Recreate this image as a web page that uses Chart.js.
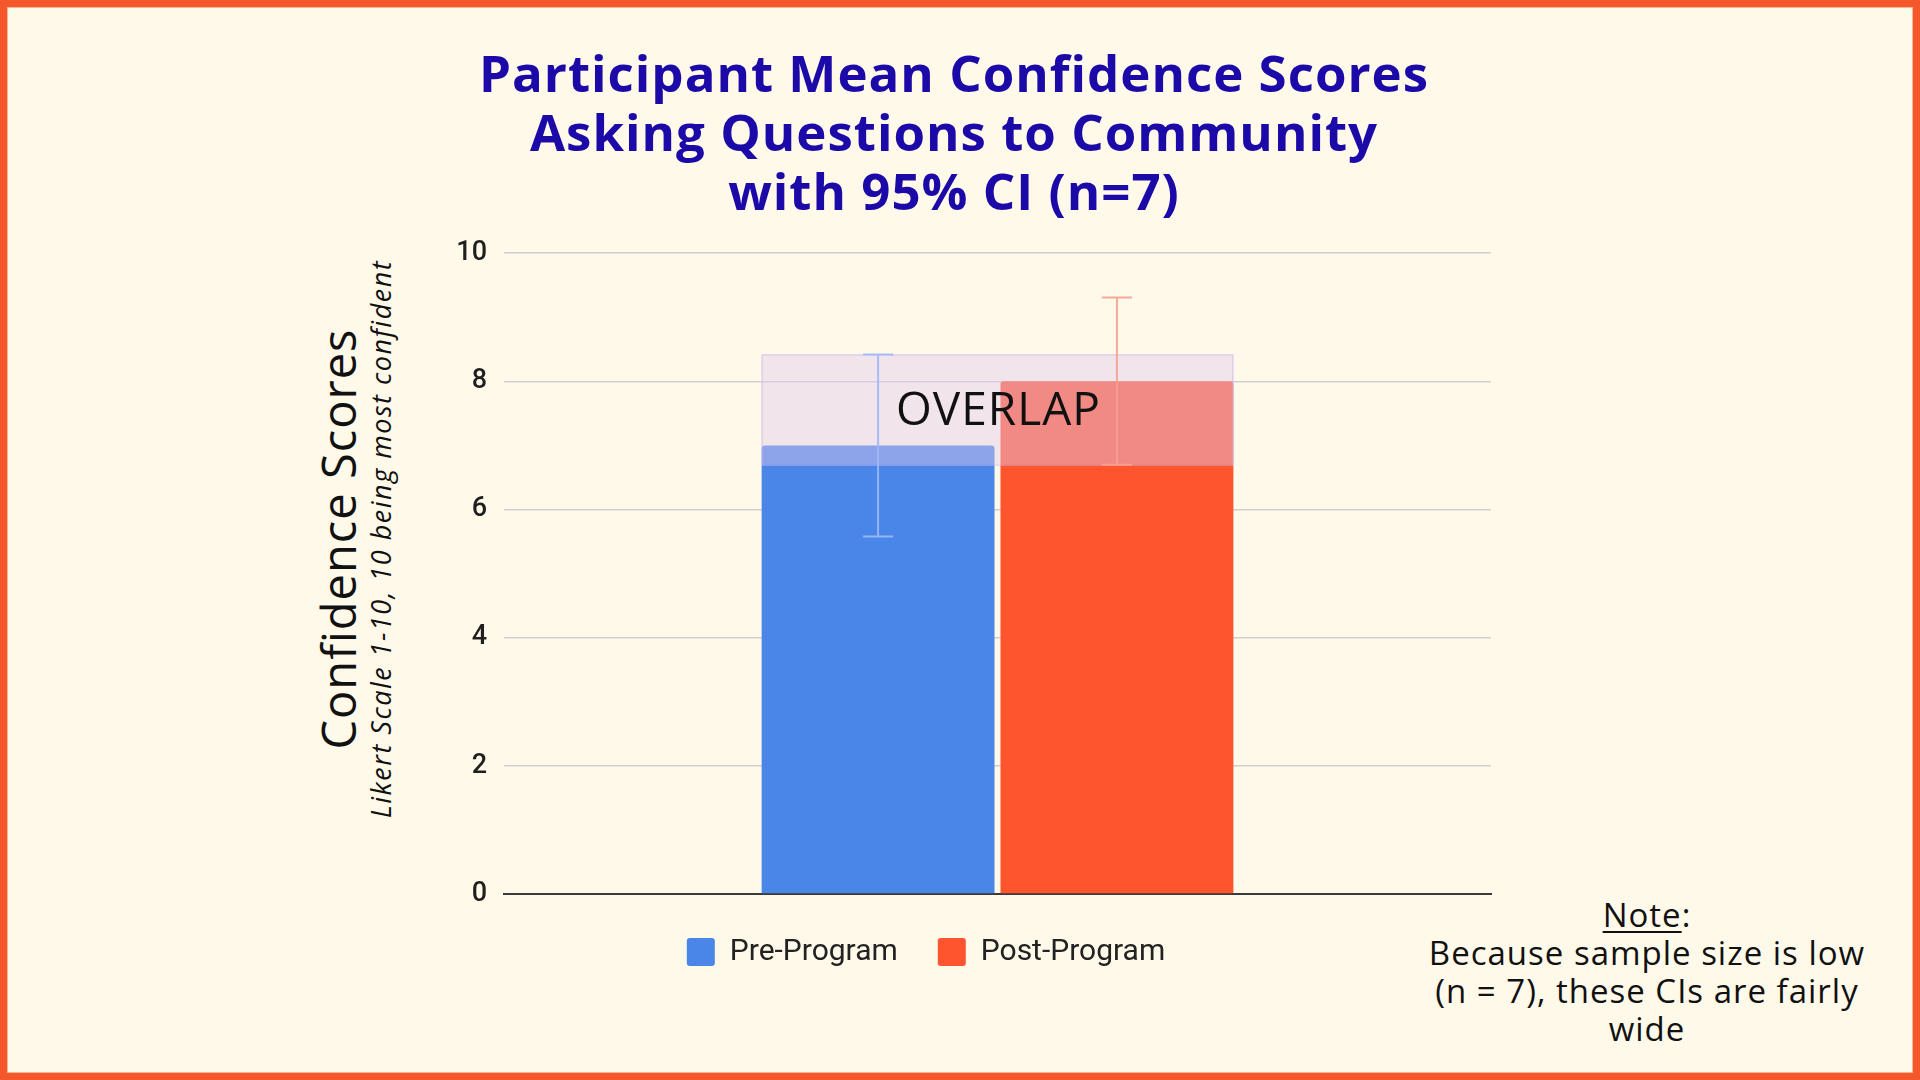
<!DOCTYPE html>
<html>
<head>
<meta charset="utf-8">
<script src="https://cdn.jsdelivr.net/npm/chart.js@4.4.1/dist/chart.umd.min.js"></script>
<style>
  html, body { margin: 0; padding: 0; }
  body {
    width: 1920px; height: 1080px; position: relative; overflow: hidden;
    background: #FFF9EA;
  }
  #frame {
    position: absolute; left: 0; top: 0; width: 1920px; height: 1080px;
    box-sizing: border-box; border: 7px solid #F4572A;
    box-shadow: inset 0 0 0 1px #F9B496;
  }
  #title {
    position: absolute; left: 304px; top: 43px; width: 1300px;
    text-align: center; font-family: "Open Sans", sans-serif; font-weight: 700;
    font-size: 51px; line-height: 59px; letter-spacing: 1px; color: #1C0AA8;
  }
  .ytitle {
    position: absolute; white-space: nowrap; transform: translate(-50%, -50%) rotate(-90deg);
    color: #111;
  }
  #ymain { left: 338px; top: 539px; font-family: "Open Sans", sans-serif; font-size: 47px; letter-spacing: 1px; }
  #ysub { left: 380px; top: 539px; font-family: "Open Sans", sans-serif; font-style: italic; font-size: 27px; letter-spacing: 1.5px; }
  #note {
    position: absolute; left: 1372px; top: 896px; width: 550px; text-align: center;
    font-family: "Open Sans", sans-serif; font-size: 33px; line-height: 38px; letter-spacing: 1px; color: #111;
  }
  #note u { text-decoration-thickness: 2px; text-underline-offset: 4px; }
  #wrap { position: absolute; left: 332px; top: 220px; width: 1188px; height: 800px; }
</style>
</head>
<body>
<div id="frame"></div>
<div id="title">Participant Mean Confidence Scores<br>Asking Questions to Community<br>with 95% CI (n=7)</div>
<div id="ymain" class="ytitle">Confidence Scores</div>
<div id="ysub" class="ytitle">Likert Scale 1-10, 10 being most confident</div>
<div id="note"><u>Note</u>:<br>Because sample size is low<br>(n = 7), these CIs are fairly<br>wide</div>
<div id="wrap"><canvas id="chart"></canvas></div>
<script>
// chart data
const categories = ['Asking Questions to Community'];
const seriesNames = ['Pre-Program', 'Post-Program'];
const preMean = [7.0];
const postMean = [8.0];
const preLow = [5.58];
const preHigh = [8.42];
const postLow = [6.70];
const postHigh = [9.31];
const yTicks = [0, 2, 4, 6, 8, 10];

const barColors = ['#4A86E8', '#FF552E'];
const errColors = ['rgba(160,184,246,0.9)', 'rgba(246,160,144,0.9)'];

// overlap box + error bars, drawn on top of the bars
const ciPlugin = {
  id: 'ciPlugin',
  afterDatasetsDraw(chart) {
    const ctx = chart.ctx;
    const y = chart.scales.y;
    const lows = [preLow, postLow];
    const highs = [preHigh, postHigh];
    const bars = [chart.getDatasetMeta(0).data[0], chart.getDatasetMeta(1).data[0]];

    const left = Math.min(...bars.map(b => b.x - b.width / 2));
    const right = Math.max(...bars.map(b => b.x + b.width / 2));
    const ovLow = Math.max(preLow[0], postLow[0]);
    const ovHigh = Math.min(preHigh[0], postHigh[0]);
    const top = y.getPixelForValue(ovHigh);
    const bottom = y.getPixelForValue(ovLow);

    ctx.save();
    ctx.fillStyle = 'rgba(225,202,238,0.45)';
    ctx.fillRect(left, top, right - left, bottom - top);
    ctx.strokeStyle = 'rgba(200,180,235,0.7)';
    ctx.lineWidth = 1;
    ctx.strokeRect(left + 0.5, top + 0.5, right - left - 1, bottom - top);

    bars.forEach((b, i) => {
      const yl = y.getPixelForValue(lows[i][0]);
      const yh = y.getPixelForValue(highs[i][0]);
      ctx.strokeStyle = errColors[i];
      ctx.lineWidth = 2;
      ctx.beginPath();
      ctx.moveTo(b.x, yl); ctx.lineTo(b.x, yh);
      ctx.moveTo(b.x - 15, yl); ctx.lineTo(b.x + 15, yl);
      ctx.moveTo(b.x - 15, yh); ctx.lineTo(b.x + 15, yh);
      ctx.stroke();
    });

    ctx.fillStyle = '#111';
    ctx.font = '46px "Open Sans", sans-serif';
    ctx.letterSpacing = '1px';
    ctx.textAlign = 'center';
    ctx.textBaseline = 'middle';
    ctx.fillText('OVERLAP', (left + right) / 2 + 1, (top + bottom) / 2 + 2);
    ctx.restore();
  }
};

new Chart(document.getElementById('chart'), {
  type: 'bar',
  data: {
    labels: categories,
    datasets: [
      { label: seriesNames[0], data: preMean, backgroundColor: barColors[0] },
      { label: seriesNames[1], data: postMean, backgroundColor: barColors[1] }
    ]
  },
  options: {
    responsive: true,
    maintainAspectRatio: false,
    animation: false,
    layout: { padding: { top: 31, right: 29, bottom: 43, left: 29 } },
    datasets: {
      bar: { categoryPercentage: 0.484, barPercentage: 0.975, borderRadius: 3, borderSkipped: 'start' }
    },
    scales: {
      x: {
        grid: { display: false },
        ticks: { display: false },
        border: { display: true, color: '#3a3a3a', width: 2 },
        afterFit(s) { s.height = 3; }
      },
      y: {
        min: 0, max: 10,
        afterBuildTicks(s) { s.ticks = yTicks.map(v => ({ value: v })); },
        grid: { color: '#d0d0d0', lineWidth: 1.5, drawTicks: false },
        border: { display: false },
        ticks: { padding: 17, color: '#1f1f1f', font: { family: 'Roboto', size: 27, weight: '500' } },
        afterFit(s) { s.width = 143; }
      }
    },
    plugins: {
      legend: {
        position: 'bottom',
        labels: {
          boxWidth: 28, boxHeight: 28, padding: 40,
          useBorderRadius: true, borderRadius: 3,
          color: '#222', font: { family: 'Roboto', size: 30 }
        }
      },
      tooltip: { enabled: false }
    }
  },
  plugins: [ciPlugin]
});
</script>
</body>
</html>
